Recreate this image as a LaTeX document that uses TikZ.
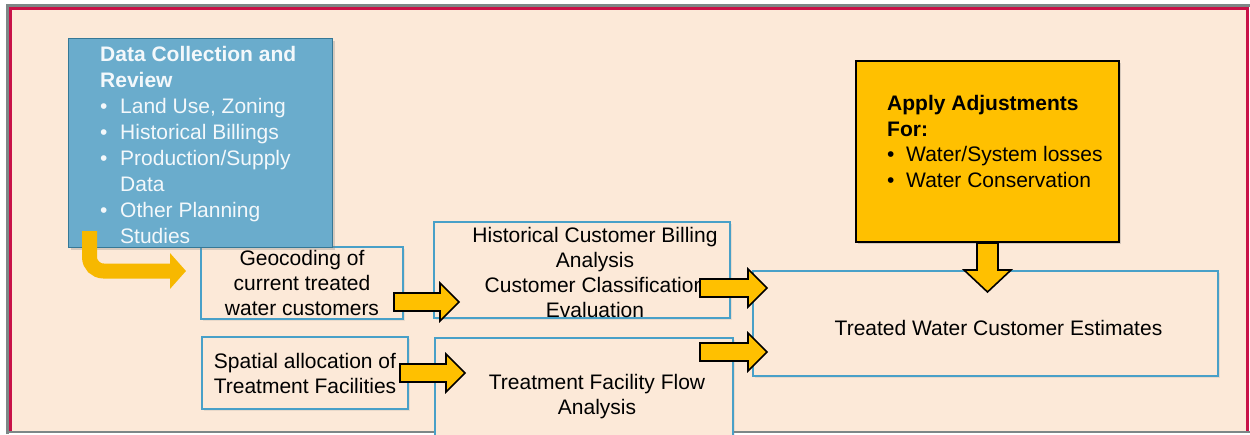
\documentclass[tikz,border=0pt]{standalone}
\usepackage{fontspec}
\setmainfont{Liberation Sans}
\usetikzlibrary{arrows.meta, calc, shadows}
\definecolor{peach}{RGB}{252,233,216}
\definecolor{framered}{RGB}{200,18,72}
\definecolor{framegray}{RGB}{125,135,135}
\definecolor{boxblue}{RGB}{72,160,200}
\definecolor{datablue}{RGB}{106,172,204}
\definecolor{adjgold}{RGB}{255,192,0}
\definecolor{lgold}{RGB}{247,184,0}
\tikzset{
  stepbox/.style={draw=boxblue, line width=2pt, fill=peach, inner sep=0pt,
    anchor=north west, align=center, font=\fontsize{21}{25}\selectfont,
    drop shadow={shadow xshift=2pt, shadow yshift=-2pt, opacity=.15}},
  steptext/.style={align=center, font=\fontsize{21}{25}\selectfont, inner sep=0pt},
  fatarr/.style={fill=adjgold, draw=black, line width=1.6pt, line join=miter},
}
\begin{document}
\begin{tikzpicture}[x=1pt, y=-1pt]
        \useasboundingbox (0,0) rectangle (1250,434);
        % Frame and page
        \fill[white] (0,0) rectangle (1250,434);
        \fill[peach] (11,9) rectangle (1248,432);
        \draw[framegray, line width=3pt] (7,434) -- (7,5) -- (1250,5);
        \draw[framegray, line width=2pt] (7,432) -- (1250,432);
        \draw[framered, line width=3pt] (10.5,431) -- (10.5,8.5) -- (1247.5,8.5) -- (1247.5,431);
        % Process boxes
        \node[stepbox, minimum width=202pt, minimum height=72pt] (geo) at (200,246)
          {Geocoding of\\current treated\\water customers};
        \node[stepbox, minimum width=206pt, minimum height=72pt] (spat) at (201,336)
          {Spatial allocation of\\Treatment Facilities};
        \node[stepbox, minimum width=296pt, minimum height=96pt,
          label={[steptext, name=histtxt, xshift=13pt, yshift=-2pt]center:Historical Customer Billing\\Analysis\\Customer Classification\\Evaluation}]
          (hist) at (433,221) {};
        \node[stepbox, minimum width=298pt, minimum height=117pt,
          label={[steptext, name=flowtxt, xshift=13pt]center:Treatment Facility Flow\\Analysis}]
          (flow) at (434,337) {};
        \node[stepbox, minimum width=465pt, minimum height=105pt,
          label={[steptext, name=esttxt, xshift=13pt, yshift=-4pt]center:Treated Water Customer Estimates}]
          (est) at (752,270) {};
        % Data collection box
        \node[draw=boxblue!75!black, line width=1pt, fill=datablue, anchor=north west,
          minimum width=264pt, minimum height=209pt,
          drop shadow={shadow xshift=2pt, shadow yshift=-2pt, opacity=.3}] (data) at (68,38) {};
        \node[anchor=north west, inner sep=0pt, align=left, text=white!92!datablue,
          font=\fontsize{21}{26}\selectfont] (datatxt) at ($(data.north west)+(32,8.5)$)
          {\textbf{Data Collection and}\\\textbf{Review}\\
           \makebox[20pt][l]{\textbullet}Land Use, Zoning\\
           \makebox[20pt][l]{\textbullet}Historical Billings\\
           \makebox[20pt][l]{\textbullet}Production/Supply\\
           \hspace*{20pt}Data\\
           \makebox[20pt][l]{\textbullet}Other Planning\\
           \hspace*{20pt}Studies};
        % Adjustments box
        \node[draw=black, line width=2pt, fill=adjgold, anchor=north west,
          minimum width=263pt, minimum height=181pt,
          drop shadow={shadow xshift=2pt, shadow yshift=-2pt, opacity=.3}] (adj) at (855,60) {};
        \node[anchor=north west, inner sep=0pt, align=left,
          font=\fontsize{21}{25.5}\selectfont] (adjtxt) at ($(adj.north west)+(32,35.5)$)
          {\textbf{Apply Adjustments}\\\textbf{For:}\\
           \makebox[19pt][l]{\textbullet}Water/System losses\\
           \makebox[19pt][l]{\textbullet}Water Conservation};
        % Block arrows between boxes
        \coordinate (t1) at ($(geo.east)+(-10,19)$);
        \coordinate (h1) at ($(hist.west |- t1)+(26,0)$);
        \coordinate (t2) at ($(spat.east)+(-9,0)$);
        \coordinate (h2) at ($(flow.west |- t2)+(31,0)$);
        \coordinate (t3) at ($(hist.east)+(-31,18)$);
        \coordinate (h3) at ($(est.west |- t3)+(15,0)$);
        \coordinate (t4) at ($(flow.east |- est.south)+(-34,-25)$);
        \coordinate (h4) at ($(est.west |- t4)+(15,0)$);
        \foreach \t/\h in {t1/h1, t2/h2, t3/h3, t4/h4}
          \draw[fatarr] (\h) -- ++(-19,-19) -- ++(0,10) -- ($(\t)+(0,-9)$)
            -- ($(\t)+(0,9)$) -- ($(\h)+(-19,9)$) -- ++(0,10) -- cycle;
        % Arrow down into the estimates
        \coordinate (dt) at (adj.south);
        \coordinate (dh) at ($(adj.south |- est.north)+(0,22)$);
        \draw[fatarr] (dh) -- ++(-23.5,-22) -- ++(13,0) -- ($(dt)+(-10.5,0)$)
          -- ($(dt)+(10.5,0)$) -- ($(dh)+(10.5,-22)$) -- ++(13,0) -- cycle;
        % Bent arrow out of the data box
        \coordinate (ls) at ($(data.south west)+(21.5,-17)$);
        \coordinate (lt) at ($(geo.west)+(-14,-12)$);
        \draw[lgold, line width=15pt, rounded corners=14pt,
          -{Triangle[length=16pt,width=35pt]}] (ls) |- (lt);
      \end{tikzpicture}
\end{document}
